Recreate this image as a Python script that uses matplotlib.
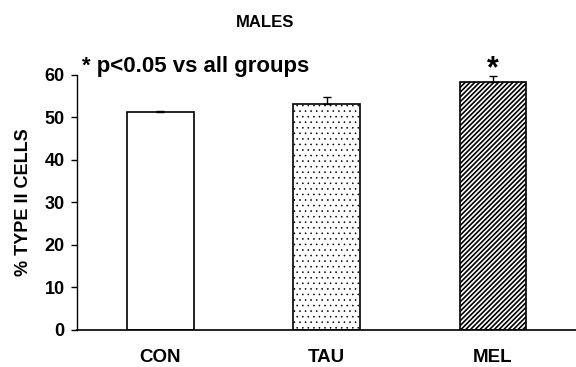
import matplotlib
matplotlib.use("Agg")
import matplotlib.pyplot as plt

plt.rcParams['font.family'] = ['Liberation Sans', 'DejaVu Sans']

categories = ["CON", "TAU", "MEL"]
values = [51.2, 53.2, 58.3]
errors = [0.3, 1.5, 1.4]
hatches = ["", "...", "///////"]
hatch_lws = [0.5, 0.4, 1.2]
yticks = [0, 10, 20, 30, 40, 50, 60]

fig = plt.figure(figsize=(5.76, 3.67), dpi=100)
ax = fig.add_axes([0.134, 0.101, 0.866, 0.695])

x = list(range(len(categories)))
for xi, v, e, h, hl in zip(x, values, errors, hatches, hatch_lws):
    plt.rcParams['hatch.linewidth'] = hl
    ax.bar(xi, v, width=0.4, color="white", edgecolor="black", linewidth=1.2, hatch=h, zorder=2)
    ax.errorbar(xi, v, yerr=[[0], [e]], fmt="none", ecolor="black", elinewidth=1, capsize=3, capthick=1, zorder=3)

ax.set_xlim(-0.5, 2.5)
ax.set_ylim(0, 60)
ax.set_yticks(yticks)
ax.set_yticklabels([str(t) for t in yticks], fontsize=13, fontweight="bold")
ax.set_xticks(x)
ax.set_xticklabels(categories, fontsize=13.5, fontweight="bold")
ax.tick_params(axis="x", length=0, pad=14)
ax.tick_params(axis="y", length=4, width=1, direction="out", pad=5)
ax.spines["top"].set_visible(False)
ax.spines["right"].set_visible(False)
ax.spines["left"].set_linewidth(1)
ax.spines["bottom"].set_linewidth(1.2)

ax.set_ylabel("% TYPE II CELLS", fontsize=13, fontweight="bold", labelpad=9)
ax.text(-0.47, 62, "* p<0.05 vs all groups", fontsize=16, fontweight="bold", va="center", ha="left", clip_on=False)
ax.text(2, 61.3, "*", fontsize=22, fontweight="bold", ha="center", va="center", clip_on=False)
fig.text(0.46, 0.94, "MALES", fontsize=12, fontweight="bold", ha="center", va="center")

fig.savefig("out.png", dpi=100)
